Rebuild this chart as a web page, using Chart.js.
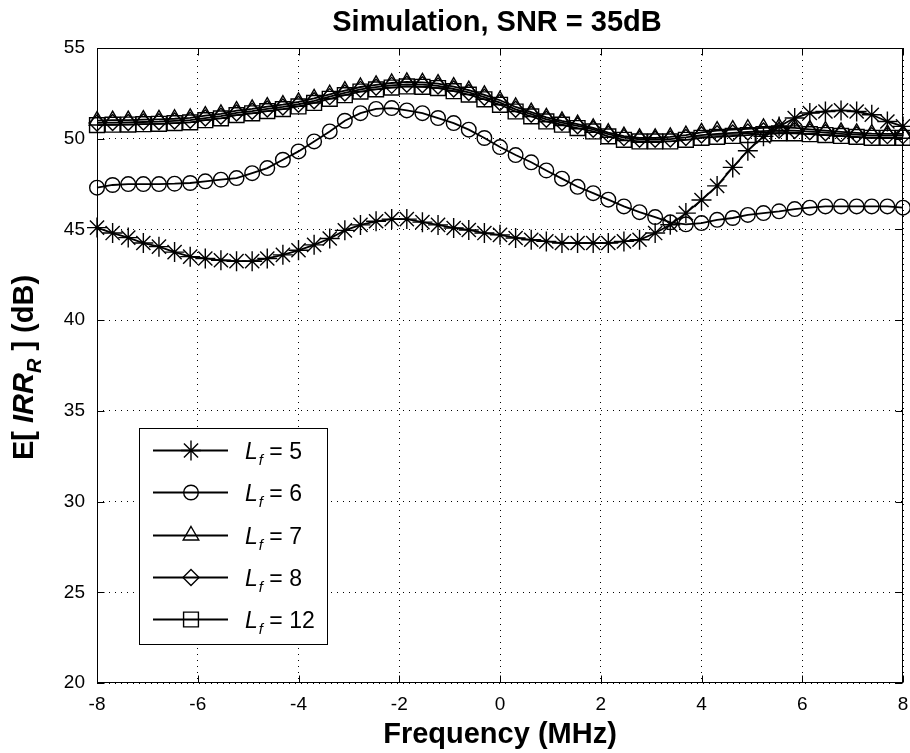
<!DOCTYPE html>
<html><head><meta charset="utf-8">
<script src="https://cdn.jsdelivr.net/npm/chart.js@4.4.1/dist/chart.umd.min.js"></script>
<style>html,body{margin:0;padding:0;background:#fff;}#wrap{width:910px;height:753px;}</style>
</head><body><div id="wrap"><canvas id="c" width="910" height="753"></canvas></div>
<script>
const freq = [-8,-7.69,-7.38,-7.08,-6.77,-6.46,-6.15,-5.85,-5.54,-5.23,-4.92,-4.62,-4.31,-4,-3.69,-3.38,-3.08,-2.77,-2.46,-2.15,-1.85,-1.54,-1.23,-0.92,-0.62,-0.31,0,0.31,0.62,0.92,1.23,1.54,1.85,2.15,2.46,2.77,3.08,3.38,3.69,4,4.31,4.62,4.92,5.23,5.54,5.85,6.15,6.46,6.77,7.08,7.38,7.69,8];
const xTicks = [-8,-6,-4,-2,0,2,4,6,8];
const yTicks = [20,25,30,35,40,45,50,55];
const seriesLabels = ['5','6','7','8','12'];
const L5 = [45.1,44.8,44.55,44.25,44.05,43.75,43.5,43.4,43.3,43.25,43.25,43.4,43.6,43.85,44.15,44.5,44.95,45.25,45.45,45.57,45.57,45.4,45.25,45.08,44.97,44.8,44.7,44.53,44.43,44.34,44.25,44.25,44.25,44.25,44.34,44.43,44.8,45.26,45.9,46.62,47.4,48.42,49.34,50.13,50.68,51.14,51.42,51.5,51.56,51.5,51.32,50.95,50.68];
const L6 = [47.3,47.45,47.5,47.5,47.5,47.52,47.56,47.65,47.74,47.83,48.1,48.38,48.84,49.3,49.85,50.4,50.99,51.41,51.64,51.69,51.56,51.41,51.14,50.86,50.5,50.04,49.54,49.1,48.7,48.25,47.8,47.35,47.0,46.64,46.27,45.95,45.68,45.39,45.28,45.35,45.53,45.63,45.8,45.9,46.0,46.12,46.2,46.27,46.27,46.27,46.27,46.27,46.2];
const L7 = [51.0,51.02,51.03,51.05,51.07,51.1,51.15,51.27,51.37,51.55,51.65,51.77,51.88,52.03,52.22,52.45,52.65,52.85,52.97,53.07,53.13,53.11,53.04,52.87,52.68,52.42,52.12,51.75,51.47,51.18,50.98,50.8,50.6,50.33,50.14,50.05,50.05,50.1,50.2,50.35,50.45,50.5,50.55,50.6,50.62,50.6,50.52,50.45,50.38,50.32,50.28,50.27,50.27];
const L8 = [50.87,50.89,50.9,50.92,50.94,50.98,51.02,51.14,51.24,51.42,51.52,51.64,51.75,51.9,52.09,52.32,52.52,52.72,52.84,52.94,53.0,52.98,52.91,52.74,52.55,52.29,51.99,51.62,51.35,51.07,50.89,50.71,50.52,50.25,50.06,49.97,49.97,49.98,50.07,50.2,50.27,50.32,50.37,50.42,50.46,50.45,50.39,50.33,50.27,50.22,50.17,50.17,50.17];
const L12 = [50.75,50.77,50.78,50.8,50.82,50.86,50.9,51.02,51.12,51.3,51.4,51.52,51.63,51.78,51.97,52.2,52.4,52.6,52.72,52.82,52.88,52.86,52.79,52.62,52.43,52.17,51.87,51.5,51.23,50.95,50.77,50.59,50.4,50.13,49.94,49.85,49.85,49.85,49.94,50.05,50.1,50.15,50.2,50.25,50.3,50.3,50.25,50.2,50.15,50.1,50.05,50.05,50.05];
const titleText = 'Simulation, SNR = 35dB';
const xTitleText = 'Frequency (MHz)';

const FONT = "'Liberation Sans', Arial, Helvetica, sans-serif";
const seriesValues = [L5, L6, L7, L8, L12];
const markers = [
  {pointStyle: 'star', radius: 10},
  {pointStyle: 'circle', radius: 7.3},
  {pointStyle: 'triangle', radius: 9},
  {pointStyle: 'rectRot', radius: 8},
  {pointStyle: 'rect', radius: 10.5}
];

const datasets = seriesValues.map((vals, k) => ({
  label: 'L_f = ' + seriesLabels[k],
  data: freq.map((f, i) => ({x: f, y: vals[i]})),
  borderColor: '#000',
  borderWidth: 1.8,
  pointStyle: markers[k].pointStyle,
  pointRadius: markers[k].radius,
  pointHoverRadius: markers[k].radius,
  pointBorderColor: '#000',
  pointBackgroundColor: 'rgba(0,0,0,0)',
  pointBorderWidth: 1.4,
  tension: 0,
  fill: false,
  clip: false,
  order: 5 - k
}));

const decor = {
  id: 'decor',
  afterDraw(chart) {
    const ctx = chart.ctx;
    const a = chart.chartArea;
    const xs = chart.scales.x, ys = chart.scales.y;
    const L = Math.round(a.left) + 0.5, R = Math.round(a.right) - 0.5;
    const T = Math.round(a.top) + 0.5, B = Math.round(a.bottom) - 0.5;
    ctx.save();
    ctx.strokeStyle = '#000';
    ctx.lineWidth = 1;
    ctx.setLineDash([]);
    ctx.beginPath();
    xTicks.forEach(v => {
      const p = Math.round(xs.getPixelForValue(v)) + 0.5;
      ctx.moveTo(p, B); ctx.lineTo(p, B - 7);
      ctx.moveTo(p, T); ctx.lineTo(p, T + 7);
    });
    yTicks.forEach(v => {
      const p = Math.round(ys.getPixelForValue(v)) + 0.5;
      ctx.moveTo(L, p); ctx.lineTo(L + 7, p);
      ctx.moveTo(R, p); ctx.lineTo(R - 7, p);
    });
    ctx.stroke();
    ctx.strokeRect(L, T, R - L, B - T);

    // title
    ctx.fillStyle = '#000';
    ctx.font = 'bold 29px ' + FONT;
    ctx.textAlign = 'center';
    ctx.textBaseline = 'middle';
    ctx.fillText(titleText, (a.left + a.right) / 2 - 3, 23);

    // legend
    const bx = 139.5, by = 428.5, bw = 188, bh = 216;
    ctx.fillStyle = '#fff';
    ctx.fillRect(bx, by, bw, bh);
    ctx.strokeRect(bx, by, bw, bh);
    const rowY = [450, 492.3, 534.6, 576.9, 619.2];
    datasets.forEach((ds, k) => {
      const y = Math.round(rowY[k]) + 0.5;
      ctx.strokeStyle = '#000';
      ctx.lineWidth = 1.8;
      ctx.beginPath(); ctx.moveTo(153, y); ctx.lineTo(228, y); ctx.stroke();
      ctx.lineWidth = 1.4;
      ctx.fillStyle = 'rgba(0,0,0,0)';
      if (Chart.helpers && Chart.helpers.drawPoint) {
        Chart.helpers.drawPoint(ctx, {pointStyle: ds.pointStyle, radius: ds.pointRadius, borderWidth: 1.4, rotation: 0}, 191, y);
      }
      ctx.fillStyle = '#000';
      ctx.textBaseline = 'alphabetic';
      ctx.textAlign = 'left';
      let tx = 245;
      const base = y + 8;
      ctx.font = 'italic 23px ' + FONT;
      ctx.fillText('L', tx, base); tx += ctx.measureText('L').width + 1;
      ctx.font = 'italic 15px ' + FONT;
      ctx.fillText('f', tx, base + 6); tx += ctx.measureText('f').width;
      ctx.font = '23px ' + FONT;
      ctx.fillText(' = ' + seriesLabels[k], tx, base);
    });

    // y axis title
    const segs = [
      {t: 'E[ ', f: 'bold 29px ' + FONT, dy: 0},
      {t: 'IRR', f: 'italic bold 29px ' + FONT, dy: 0},
      {t: 'R', f: 'italic bold 20px ' + FONT, dy: 8},
      {t: ' ] (dB)', f: 'bold 29px ' + FONT, dy: 0}
    ];
    let W = 0;
    segs.forEach(s => { ctx.font = s.f; s.w = ctx.measureText(s.t).width; W += s.w; });
    ctx.translate(33, 367.5);
    ctx.rotate(-Math.PI / 2);
    ctx.fillStyle = '#000';
    ctx.textBaseline = 'alphabetic';
    ctx.textAlign = 'left';
    let lx = -W / 2;
    segs.forEach(s => { ctx.font = s.f; ctx.fillText(s.t, lx, s.dy); lx += s.w; });
    ctx.restore();
  }
};

new Chart(document.getElementById('c'), {
  type: 'line',
  data: {datasets},
  options: {
    responsive: false,
    devicePixelRatio: 1,
    animation: false,
    events: [],
    layout: {autoPadding: false, padding: {left: 0, right: 7, top: 48, bottom: 0}},
    plugins: {
      legend: {display: false},
      tooltip: {enabled: false},
      title: {display: false}
    },
    scales: {
      x: {
        type: 'linear', min: -8, max: 8,
        afterBuildTicks: s => { s.ticks = xTicks.map(v => ({value: v})); },
        afterFit: s => { s.height = 70; s.paddingRight = 0; s.paddingLeft = 0; },
        ticks: {color: '#000', font: {family: FONT, size: 19}, padding: 10, maxRotation: 0, autoSkip: false, callback: v => String(v)},
        grid: {color: '#000', lineWidth: 1, drawTicks: false},
        border: {display: false, dash: [1, 5]},
        title: {display: true, text: xTitleText, color: '#000', font: {family: FONT, size: 29, weight: 'bold'}, padding: {top: 0, bottom: 1}}
      },
      y: {
        type: 'linear', min: 20, max: 55,
        afterBuildTicks: s => { s.ticks = yTicks.map(v => ({value: v})); },
        afterFit: s => { s.width = 97; s.paddingTop = 0; s.paddingBottom = 0; },
        ticks: {color: '#000', font: {family: FONT, size: 19}, padding: 12, autoSkip: false, callback: v => String(v)},
        grid: {color: '#000', lineWidth: 1, drawTicks: false},
        border: {display: false, dash: [1, 5]}
      }
    }
  },
  plugins: [decor]
});
</script>
</body></html>
